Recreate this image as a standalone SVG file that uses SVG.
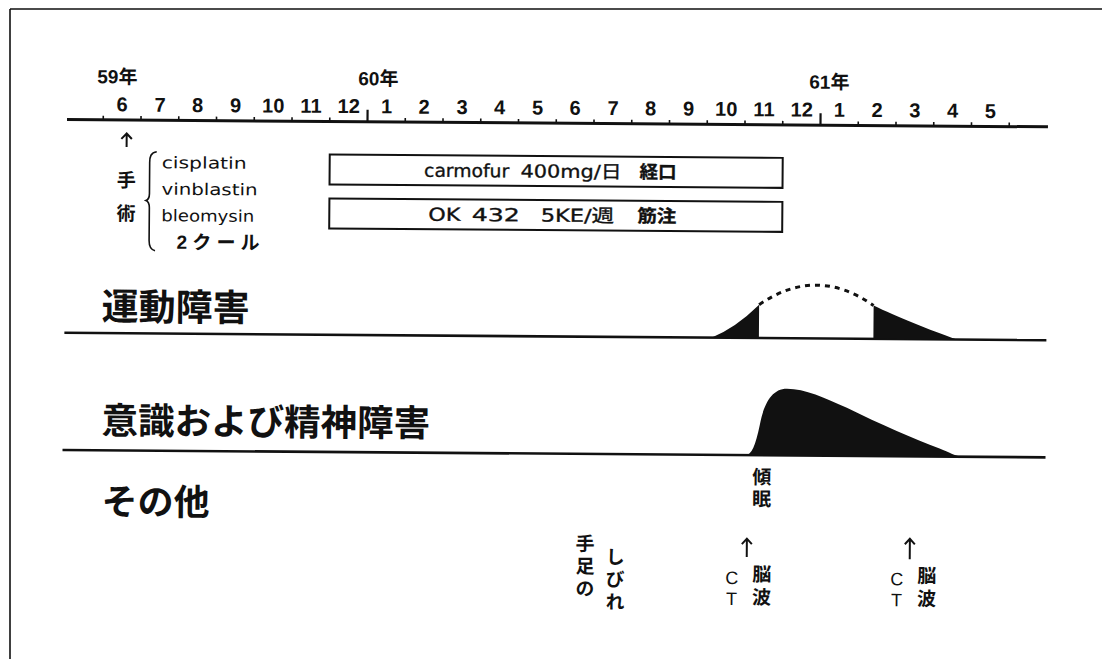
<svg xmlns="http://www.w3.org/2000/svg" width="1102" height="659" viewBox="0 0 1102 659">
<style>
.ln{stroke:#111;fill:none}
.ax{stroke-width:3}
.base{stroke-width:2.6}
.tick{stroke:#111;stroke-width:1.6}
.mj{stroke:#111;stroke-width:2.2}
.mon{font-family:'Liberation Sans','Noto Sans CJK JP',sans-serif;font-weight:bold;font-size:20px;text-anchor:middle;fill:#111}
.yr{font-family:'Liberation Sans','Noto Sans CJK JP',sans-serif;font-weight:bold;font-size:19px;fill:#111}
.big{font-family:'Noto Sans CJK JP',sans-serif;font-weight:bold;fill:#111}
.jp{font-family:'Noto Sans CJK JP',sans-serif;font-weight:bold;font-size:19px;text-anchor:middle;fill:#111}
.vt{font-family:'Noto Sans CJK JP',sans-serif;font-weight:bold;font-size:19px;fill:#111;writing-mode:vertical-rl;text-orientation:upright}
.lat{font-family:'DejaVu Sans','Liberation Sans','Noto Sans CJK JP',sans-serif;font-size:16px;fill:#111}
.bx{font-family:'DejaVu Sans','Liberation Sans','Noto Sans CJK JP',sans-serif;font-size:18px;fill:#111;stroke:#111;stroke-width:0.35}
.ct{font-family:'Liberation Sans',sans-serif;font-size:18px;text-anchor:middle;fill:#111}
.box{fill:#fff;stroke:#111;stroke-width:2}
.blk{fill:#111}
.dash{stroke:#111;stroke-width:3;fill:none;stroke-dasharray:5 5}
.arr{stroke:#111;stroke-width:2;fill:none}
</style>
<rect width="1102" height="659" fill="#fff"/>
<g id="frame">
<path class="ln" d="M10,9 H1102 M10,9 V659" stroke-width="1.6"/>
</g>
<g id="figure" transform="rotate(0.43 67 120)">
<g id="timeline">
<path class="ln ax" d="M67,119.5 H1048"/>
<path class="tick" d="M103.25,119.5v-4 M141,119.5v-4 M178.75,119.5v-4 M216.5,119.5v-4 M254.25,119.5v-4 M292,119.5v-4 M329.75,119.5v-4 M405.25,119.5v-4 M443,119.5v-4 M480.75,119.5v-4 M518.5,119.5v-4 M556.25,119.5v-4 M594,119.5v-4 M631.75,119.5v-4 M669.5,119.5v-4 M707.25,119.5v-4 M745,119.5v-4 M782.75,119.5v-4 M858.25,119.5v-4 M896,119.5v-4 M933.75,119.5v-4 M971.5,119.5v-4 M1009.25,119.5v-4"/>
<path class="mj" d="M367.5,119.5V107.5 M820.5,119.5V107.5"/>
<text class="yr" x="97" y="83">59年</text>
<text class="yr" x="358" y="83">60年</text>
<text class="yr" x="809" y="83">61年</text>
<text class="mon" y="111"><tspan x="122.1">6</tspan><tspan x="159.9">7</tspan><tspan x="197.6">8</tspan><tspan x="235.4">9</tspan><tspan x="273.1">10</tspan><tspan x="310.9">11</tspan><tspan x="348.6">12</tspan><tspan x="386.4">1</tspan><tspan x="424.1">2</tspan><tspan x="461.9">3</tspan><tspan x="499.6">4</tspan><tspan x="537.4">5</tspan><tspan x="575.1">6</tspan><tspan x="612.9">7</tspan><tspan x="650.6">8</tspan><tspan x="688.4">9</tspan><tspan x="726.1">10</tspan><tspan x="763.9">11</tspan><tspan x="801.6">12</tspan><tspan x="839.4">1</tspan><tspan x="877.1">2</tspan><tspan x="914.9">3</tspan><tspan x="952.6">4</tspan><tspan x="990.4">5</tspan></text>
</g>
<g id="surgery">
<text class="jp" font-size="17"><tspan x="126.8" y="186.5">手</tspan><tspan x="126.8" y="220">術</tspan></text>
<path class="ln" stroke-width="1.6" d="M157,151 C151,152 150,156 150,162 L150,193 C150,197 149,199 146.5,200 C149,201 150,203 150,207 L150,240 C150,245 151,249 156,250"/>
<text class="lat" x="162" y="167.5" textLength="85" lengthAdjust="spacingAndGlyphs">cisplatin</text>
<text class="lat" x="162" y="194" textLength="96" lengthAdjust="spacingAndGlyphs">vinblastin</text>
<text class="lat" x="162" y="220.5" textLength="93" lengthAdjust="spacingAndGlyphs">bleomysin</text>
<text class="yr" x="177.5" y="248" font-size="17" textLength="83" lengthAdjust="spacing">2クール</text>
</g>
<g id="carmofur">
<rect class="box" x="330" y="152.5" width="453" height="30"/>
<text class="bx" y="174"><tspan x="424.5" textLength="85" lengthAdjust="spacingAndGlyphs">carmofur</tspan> <tspan x="521" textLength="101" lengthAdjust="spacingAndGlyphs">400mg/日</tspan> <tspan x="640" textLength="37" lengthAdjust="spacingAndGlyphs" font-weight="bold">経口</tspan></text>
</g>
<g id="ok432">
<rect class="box" x="330" y="196.5" width="453" height="30"/>
<text class="bx" y="218"><tspan x="429" textLength="32" lengthAdjust="spacingAndGlyphs">OK</tspan> <tspan x="472.6" textLength="48" lengthAdjust="spacingAndGlyphs">432</tspan> <tspan x="541.4" textLength="73.5" lengthAdjust="spacingAndGlyphs">5KE/週</tspan> <tspan x="638" textLength="39" lengthAdjust="spacingAndGlyphs" font-weight="bold">筋注</tspan></text>
</g>
<g id="motor">
<text class="big" x="103" y="319.6" font-size="37">運動障害</text>
<path class="ln base" d="M66,332.8 H1048"/>
<path class="blk" d="M713,332.8 Q737,323 760.5,299.5 L760.5,332.8 Z"/>
<path class="blk" d="M875,299.5 C897,310 932,324 958.5,332.8 L875,332.8 Z"/>
<path class="dash" d="M760.5,299.5 Q817.5,259.5 875,299.5"/>
</g>
<g id="consciousness">
<text class="big" x="103.8" y="433.5" font-size="36.5">意識および精神障害</text>
<path class="ln base" d="M65,450 H1048"/>
<path class="blk" d="M748,450 C754,450 758,440 762,420 C766,398 774,383.3 789,383.3 C807,383.3 827,392 849,402 C882,418 917,433 942,442 C952,446 957,449 964,450 Z"/>
<text class="vt" x="764.5" y="462" letter-spacing="3">傾眠</text>
</g>
<g id="other">
<text class="big" x="104.5" y="514.3" font-size="36">その他</text>
<text class="vt" x="588.3" y="530" letter-spacing="3.5">手足の</text>
<text class="vt" x="618.6" y="543" letter-spacing="3.5">しびれ</text>
<text class="ct"><tspan x="735.2" y="579">C</tspan><tspan x="735.2" y="600">T</tspan></text>
<text class="vt" x="765.2" y="559" letter-spacing="4">脳波</text>
<text class="ct"><tspan x="900.2" y="579">C</tspan><tspan x="900.2" y="600">T</tspan></text>
<text class="vt" x="930.2" y="559.5" letter-spacing="4">脳波</text>
</g>
<g id="connectors">
<path class="arr" d="M126.8,146.5 V133 M121.5,138.5 L126.8,133 L132,138.5"/>
<path class="arr" d="M750,552 V533.5 M745,539 L750,533.5 L755,539"/>
<path class="arr" d="M913,553 V532.5 M908,538 L913,532.5 L918,538"/>
</g>
</g>
</svg>
